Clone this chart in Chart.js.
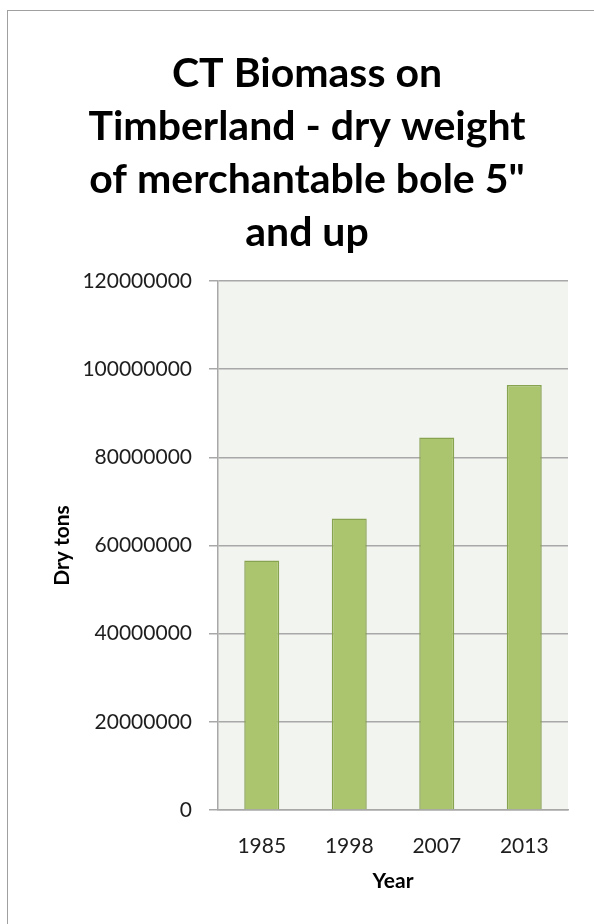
<!DOCTYPE html>
<html>
<head>
<meta charset="utf-8">
<script src="https://cdn.jsdelivr.net/npm/chart.js@4"></script>
<style>
  html, body { margin: 0; padding: 0; background: #ffffff; overflow: hidden; }
  #frame { position: absolute; left: 7px; top: 10px; width: 600px; height: 930px;
           border-top: 1px solid #a0a0a0; border-left: 1px solid #a0a0a0; }
  #wrap { position: absolute; left: 0; top: 0; width: 594px; height: 924px; }
</style>
</head>
<body>
<div id="frame"></div>
<div id="wrap"><canvas id="c" width="594" height="924"></canvas></div>
<script>
const titleLines = ['CT Biomass on', 'Timberland - dry weight', 'of merchantable bole 5"', 'and up'];
const years = ['1985', '1998', '2007', '2013'];
const dryTons = [56600000, 66100000, 84500000, 96400000];
const yAxisTitle = 'Dry tons';
const xAxisTitle = 'Year';

const FONT = 'Lato, "Open Sans", sans-serif';
const plotBg = {
  id: 'plotBg',
  beforeDraw(chart) {
    const {ctx, chartArea: a} = chart;
    ctx.save();
    ctx.fillStyle = '#f2f4ef';
    ctx.fillRect(a.left, a.top, a.right - a.left, a.bottom - a.top);
    ctx.restore();
  }
};

new Chart(document.getElementById('c'), {
  type: 'bar',
  data: {
    labels: years,
    datasets: [{
      data: dryTons,
      backgroundColor: '#abc56e',
      borderColor: '#88a350',
      borderWidth: 1.5,
      barPercentage: 0.4,
      categoryPercentage: 1.0
    }]
  },
  options: {
    responsive: false,
    animation: false,
    devicePixelRatio: 1,
    layout: { padding: { left: 46, right: 26, top: 0, bottom: 30 } },
    plugins: {
      legend: { display: false },
      tooltip: { enabled: false },
      title: {
        display: true,
        text: titleLines,
        color: '#000000',
        font: { family: FONT, size: 41, weight: 'bold', lineHeight: 53 / 41 },
        padding: { top: 47, bottom: 22 }
      }
    },
    scales: {
      x: {
        afterFit(scale) { scale.height = 84; },
        grid: { display: true, drawOnChartArea: false, drawTicks: false },
        border: { display: true, color: '#a8a8a8', width: 1.5 },
        ticks: { color: '#1e1e1e', font: { family: FONT, size: 21 }, padding: 24 },
        title: {
          display: true, text: xAxisTitle, color: '#000000',
          font: { family: FONT, size: 21, weight: 'bold' },
          padding: { top: 0, bottom: 0 }
        }
      },
      y: {
        min: 0,
        max: 120000000,
        afterFit(scale) { scale.width = 172; },
        grid: { color: '#a8a8a8', lineWidth: 1.5, tickLength: 9, drawTicks: true },
        border: { display: true, color: '#a8a8a8', width: 1.5 },
        ticks: {
          stepSize: 20000000,
          color: '#1e1e1e',
          font: { family: FONT, size: 21 },
          padding: 17,
          callback: (v) => String(v)
        },
        title: {
          display: true, text: yAxisTitle, color: '#000000',
          font: { family: FONT, size: 21, weight: 'bold' },
          padding: { top: 4, bottom: 0 }
        }
      }
    }
  },
  plugins: [plotBg]
});
</script>
</body>
</html>
